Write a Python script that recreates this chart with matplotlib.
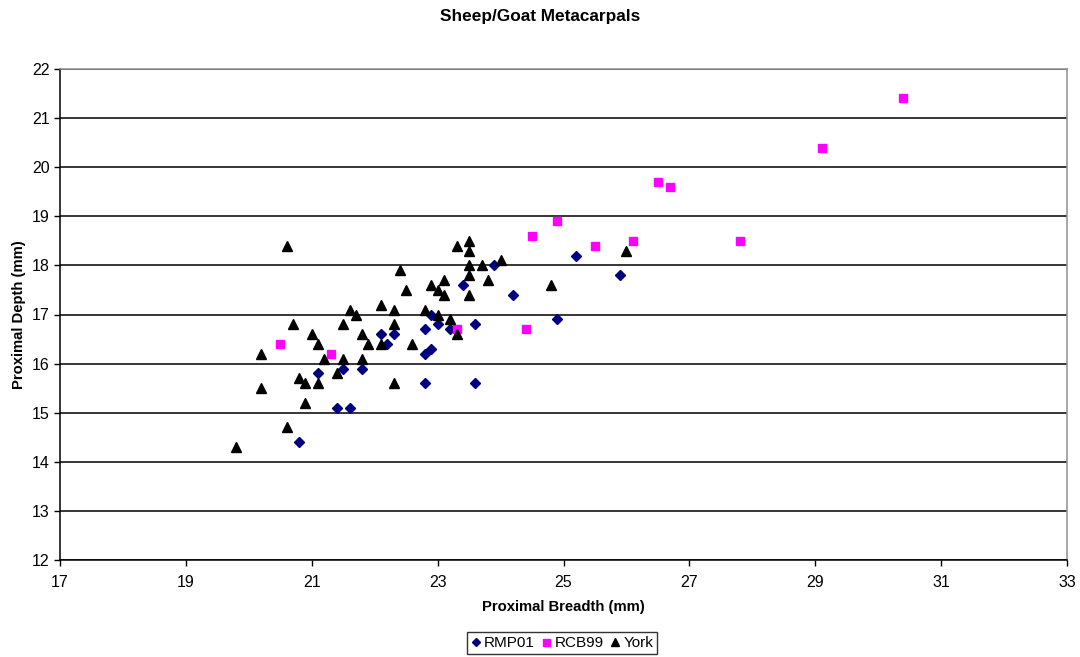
import matplotlib
matplotlib.use("Agg")
import matplotlib.pyplot as plt

plt.rcParams['font.family'] = ['Liberation Sans', 'DejaVu Sans']

# Proximal breadth / depth measurements (mm) by assemblage
rmp01_breadth = [20.8, 21.1, 21.4, 21.5, 21.6, 21.8, 22.1, 22.2, 22.3, 22.8, 22.8, 22.8,
                 22.9, 22.9, 23.0, 23.2, 23.4, 23.6, 23.6, 23.9, 24.2, 24.9, 25.2, 25.9]
rmp01_depth = [14.4, 15.8, 15.1, 15.9, 15.1, 15.9, 16.6, 16.4, 16.6, 16.7, 16.2, 15.6,
               17.0, 16.3, 16.8, 16.7, 17.6, 16.8, 15.6, 18.0, 17.4, 16.9, 18.2, 17.8]

rcb99_breadth = [20.5, 21.3, 23.3, 24.4, 24.5, 24.9, 25.5, 26.1, 26.5, 26.7, 27.8, 29.1, 30.4]
rcb99_depth = [16.4, 16.2, 16.7, 16.7, 18.6, 18.9, 18.4, 18.5, 19.7, 19.6, 18.5, 20.4, 21.4]

york_breadth = [19.8, 20.2, 20.2, 20.6, 20.6, 20.7, 20.8, 20.9, 20.9, 21.0, 21.1, 21.1,
                21.2, 21.4, 21.5, 21.5, 21.6, 21.7, 21.8, 21.8, 21.9, 22.1, 22.1, 22.3,
                22.3, 22.3, 22.4, 22.5, 22.6, 22.8, 22.9, 23.0, 23.0, 23.1, 23.1, 23.2,
                23.3, 23.3, 23.5, 23.5, 23.5, 23.5, 23.5, 23.7, 23.8, 24.0, 24.8, 26.0]
york_depth = [14.3, 16.2, 15.5, 18.4, 14.7, 16.8, 15.7, 15.6, 15.2, 16.6, 16.4, 15.6,
              16.1, 15.8, 16.8, 16.1, 17.1, 17.0, 16.6, 16.1, 16.4, 17.2, 16.4, 17.1,
              16.8, 15.6, 17.9, 17.5, 16.4, 17.1, 17.6, 17.5, 17.0, 17.7, 17.4, 16.9,
              18.4, 16.6, 18.5, 18.3, 18.0, 17.8, 17.4, 18.0, 17.7, 18.1, 17.6, 18.3]

x_ticks = [17, 19, 21, 23, 25, 27, 29, 31, 33]
y_ticks = [12, 13, 14, 15, 16, 17, 18, 19, 20, 21, 22]

fig = plt.figure(figsize=(10.8, 6.57), dpi=100)
ax = fig.add_axes([60 / 1080, 1 - 560 / 657, (1067 - 60) / 1080, (560 - 69) / 657])

ax.plot(rmp01_breadth, rmp01_depth, linestyle='none', marker='D', ms=4.6,
        color='#000080', mec='#000080', label='RMP01', zorder=3)
ax.plot(rcb99_breadth, rcb99_depth, linestyle='none', marker='s', ms=6.3,
        color='#FF00FF', mec='#FF00FF', label='RCB99', zorder=3)
ax.plot(york_breadth, york_depth, linestyle='none', marker='^', ms=7,
        color='black', mec='black', label='York', zorder=3)

ax.set_xlim(17, 33)
ax.set_ylim(12, 22)
ax.set_xticks(x_ticks)
ax.set_yticks(y_ticks)
ax.tick_params(axis='both', labelsize=11.5, direction='out', length=4, width=1, color='black')
ax.tick_params(axis='x', pad=7)
ax.yaxis.grid(True, color='black', linewidth=1.1)
ax.set_axisbelow(True)

for side in ('left', 'bottom'):
    ax.spines[side].set_color('black')
    ax.spines[side].set_linewidth(1.1)
for side in ('top', 'right'):
    ax.spines[side].set_color('#909090')
    ax.spines[side].set_linewidth(1.1)

ax.set_xlabel('Proximal Breadth (mm)', fontsize=10.7, fontweight='bold', labelpad=7)
ax.set_ylabel('Proximal Depth (mm)', fontsize=10.7, fontweight='bold', labelpad=4)
fig.text(0.5, 1 - 17 / 657, 'Sheep/Goat Metacarpals', ha='center', va='center',
         fontsize=12.4, fontweight='bold')

leg = fig.legend(loc='center', bbox_to_anchor=(562 / 1080, 1 - 643 / 657), ncol=3,
                 fontsize=11, frameon=True, fancybox=False, handlelength=0.7,
                 handletextpad=0.2, columnspacing=0.4, borderpad=0.25,
                 borderaxespad=0.0, markerscale=0.8)
leg.get_frame().set_edgecolor('black')
leg.get_frame().set_linewidth(1.0)

fig.savefig('out.png', dpi=100, facecolor='white')
